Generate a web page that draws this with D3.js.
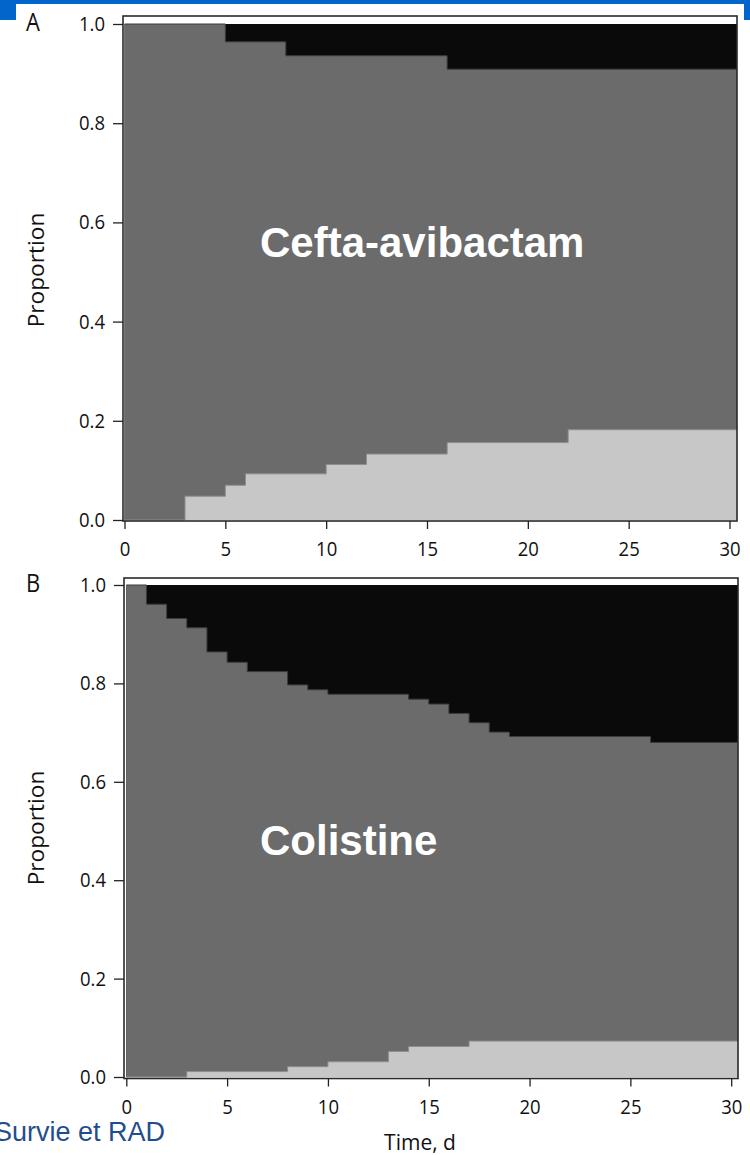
<!DOCTYPE html>
<html>
<head>
<meta charset="utf-8">
<script src="https://cdn.jsdelivr.net/npm/d3@7"></script>
<style>
  body { margin: 0; background: #fff; overflow: hidden; }
  svg { display: block; }
  .axis text { font-family: "Open Sans", sans-serif; font-size: 18.5px; fill: #111; }
  .axis line { stroke: #222; stroke-width: 1.3; }
</style>
</head>
<body>
<svg id="chart" width="750" height="1155"></svg>
<script>
const xTicks = [0, 5, 10, 15, 20, 25, 30];
const yTicks = [0, 0.2, 0.4, 0.6, 0.8, 1.0];

// A - ceftazidime-avibactam: top of grey band (alive) and discharged share
const cazAliveT = [0, 5, 8, 16];
const cazAliveV = [1.0, 0.964, 0.936, 0.909];
const cazDischT = [0, 3, 5, 6, 10, 12, 16, 22];
const cazDischV = [0, 0.048, 0.07, 0.093, 0.112, 0.133, 0.156, 0.182];

// B - colistin
const colAliveT = [0, 1, 2, 3, 4, 5, 6, 8, 9, 10, 14, 15, 16, 17, 18, 19, 26];
const colAliveV = [1.0, 0.961, 0.932, 0.913, 0.864, 0.843, 0.824, 0.797, 0.787, 0.778,
  0.768, 0.758, 0.739, 0.72, 0.701, 0.692, 0.68];
const colDischT = [0, 3, 8, 10, 13, 14, 17];
const colDischV = [0, 0.011, 0.021, 0.031, 0.052, 0.062, 0.073];

const panels = [
  {
    letter: 'A', name: 'Cefta-avibactam',
    aliveT: cazAliveT, aliveV: cazAliveV, dischT: cazDischT, dischV: cazDischV,
    frame: { left: 123, top: 16, right: 737, bottom: 521 },
    xr: [124.5, 729.5], yr: [520, 24], letterY: 31, nameY: 257, titleY: 270,
  },
  {
    letter: 'B', name: 'Colistine',
    aliveT: colAliveT, aliveV: colAliveV, dischT: colDischT, dischV: colDischV,
    frame: { left: 124, top: 578, right: 738, bottom: 1078.5 },
    xr: [126.3, 731.2], yr: [1077, 585], letterY: 592, nameY: 855, titleY: 828,
  },
];

const svg = d3.select('#chart');

// blue slide decoration
svg.append('rect').attr('x', 0).attr('y', 0).attr('width', 750).attr('height', 4).attr('fill', '#0066cc');
svg.append('rect').attr('x', 0).attr('y', 0).attr('width', 16).attr('height', 20).attr('fill', '#0066cc');
svg.append('rect').attr('x', 744).attr('y', 0).attr('width', 6).attr('height', 20).attr('fill', '#0066cc');

function steps(t, v, tEnd) {
  const pts = t.map((d, i) => [d, v[i]]);
  pts.push([tEnd, v[v.length - 1]]);
  return pts;
}

function drawPanel(p) {
  const x = d3.scaleLinear().domain([0, 30]).range(p.xr);
  const y = d3.scaleLinear().domain([0, 1]).range(p.yr);
  const tEnd = x.invert(p.frame.right);
  const g = svg.append('g');

  // deaths: black behind everything
  g.append('rect')
    .attr('x', x(0)).attr('y', y(1))
    .attr('width', x(tEnd) - x(0)).attr('height', y(0) - y(1))
    .attr('fill', '#0a0a0a');

  const area = d3.area().curve(d3.curveStepAfter)
    .x(d => x(d[0])).y0(y(0)).y1(d => y(d[1]));
  const line = d3.line().curve(d3.curveStepAfter)
    .x(d => x(d[0])).y(d => y(d[1]));

  const alive = steps(p.aliveT, p.aliveV, tEnd);
  const disch = steps(p.dischT, p.dischV, tEnd);

  g.append('path').datum(alive).attr('d', area).attr('fill', '#6b6b6b');
  g.append('path').datum(alive).attr('d', line)
    .attr('fill', 'none').attr('stroke', '#3c3c3c').attr('stroke-width', 1);
  g.append('path').datum(disch).attr('d', area).attr('fill', '#c7c7c7');
  g.append('path').datum(disch).attr('d', line)
    .attr('fill', 'none').attr('stroke', '#8e8e8e').attr('stroke-width', 1);

  // frame
  g.append('rect')
    .attr('x', p.frame.left).attr('y', p.frame.top)
    .attr('width', p.frame.right - p.frame.left)
    .attr('height', p.frame.bottom - p.frame.top)
    .attr('fill', 'none').attr('stroke', '#2a2a2a').attr('stroke-width', 1.6);

  const yAxis = g.append('g')
    .attr('class', 'axis')
    .attr('transform', `translate(${p.frame.left},0)`)
    .call(d3.axisLeft(y).tickValues(yTicks).tickSize(10).tickPadding(8).tickFormat(d3.format('.1f')));
  yAxis.select('.domain').remove();
  yAxis.selectAll('text').attr('dy', 0).attr('transform', 'translate(0,6.5) scale(1,1.1)');

  const xAxis = g.append('g')
    .attr('class', 'axis')
    .attr('transform', `translate(0,${p.frame.bottom})`)
    .call(d3.axisBottom(x).tickValues(xTicks).tickSize(8).tickFormat(d3.format('d')));
  xAxis.select('.domain').remove();
  xAxis.selectAll('text').attr('y', 0).attr('dy', 0).attr('transform', 'translate(0,35) scale(1,1.1)');

  // panel letter
  svg.append('text')
    .attr('transform', `translate(26,${p.letterY}) scale(1,1.15)`)
    .attr('font-family', 'Open Sans, sans-serif').attr('font-size', 22)
    .attr('fill', '#111').text(p.letter);

  // y title
  svg.append('text')
    .attr('transform', `translate(44,${p.titleY}) scale(1,1.08) rotate(-90)`)
    .attr('text-anchor', 'middle')
    .attr('font-family', 'Open Sans, sans-serif').attr('font-size', 21)
    .attr('fill', '#111').text('Proportion');

  // drug name overlay
  svg.append('text')
    .attr('x', 260).attr('y', p.nameY)
    .attr('font-family', 'Liberation Sans, Arial, sans-serif')
    .attr('font-weight', 'bold').attr('font-size', 42)
    .attr('fill', '#fff').text(p.name);
}

panels.forEach(drawPanel);

svg.append('text')
  .attr('transform', 'translate(420,1150) scale(1,1.05)')
  .attr('text-anchor', 'middle')
  .attr('font-family', 'Open Sans, sans-serif').attr('font-size', 21)
  .attr('fill', '#111').text('Time, d');

svg.append('text')
  .attr('x', -6).attr('y', 1141)
  .attr('font-family', 'Liberation Sans, Arial, sans-serif').attr('font-size', 27)
  .attr('fill', '#1f4e8f').text('Survie et RAD');
</script>
</body>
</html>
